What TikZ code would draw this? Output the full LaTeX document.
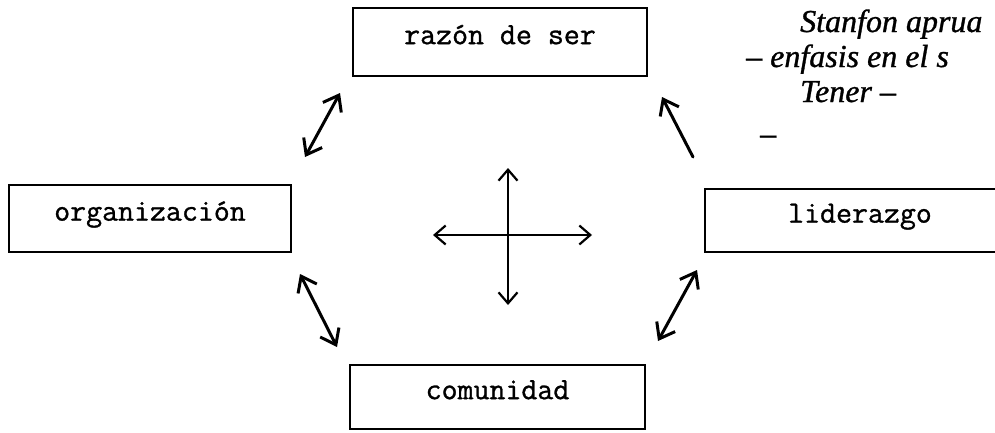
\documentclass[tikz,border=0pt]{standalone}
\usepackage{fontspec}
\usetikzlibrary{arrows.meta}
\newfontfamily\twfont{Latin Modern Mono}[FakeBold=1]
\newfontfamily\handfont{Liberation Serif}[FakeBold=1]
\tikzset{
  conceptbox/.style={draw=black, line width=1.8pt, inner sep=0pt, outer sep=0pt,
    font=\twfont\fontsize{31}{31}\selectfont, text height=1ex, text depth=0pt},
  handarrow/.style={line width=3pt, line cap=round,
    {Straight Barb[length=14pt,width=21pt,line width=3pt]}-{Straight Barb[length=14pt,width=21pt,line width=3pt]}},
  singlearrow/.style={line width=3pt, line cap=round,
    -{Straight Barb[length=14pt,width=21pt,line width=3pt]}},
  crossarrow/.style={line width=2.2pt, line cap=round,
    {Straight Barb[length=11pt,width=19pt,line width=2.2pt]}-{Straight Barb[length=11pt,width=19pt,line width=2.2pt]}},
  handnote/.style={inner sep=0pt, anchor=base west, font=\handfont\itshape\fontsize{32}{32}\selectfont}
}
\begin{document}
\begin{tikzpicture}[x=1pt,y=-1pt]
\useasboundingbox (0,0) rectangle (995,432);
\clip (0,0) rectangle (995,432);
\fill[white] (0,0) rectangle (995,432);

% boxes
\node[conceptbox, minimum width=294pt, minimum height=68pt] (razon) at (500,42) {razón de ser};
\node[conceptbox, minimum width=282pt, minimum height=67pt] (org) at (150,218.5) {organización};
\node[conceptbox, minimum width=310pt, minimum height=63pt] (lid) at (860,220.5) {liderazgo};
\node[conceptbox, minimum width=295pt, minimum height=64pt] (com) at (497.5,397) {comunidad};

% arrow end points
\coordinate (tlA) at (340,93);
\coordinate (tlB) at (305,157);
\coordinate (blA) at (300,274);
\coordinate (blB) at (337,347);
\coordinate (trHead) at (662,97);
\coordinate (trTail) at (693,157);
\coordinate (brA) at (697,270);
\coordinate (brB) at (658,341);
\coordinate (crossT) at (508,168);
\coordinate (crossB) at (508,305);
\coordinate (crossL) at (433,235);
\coordinate (crossR) at (592,235);

\draw[handarrow] (tlB) -- (tlA);
\draw[handarrow] (blA) -- (blB);
\draw[singlearrow] (trTail) -- (trHead);
\draw[handarrow] (brB) -- (brA);
\draw[crossarrow] (crossT) -- (crossB);
\draw[crossarrow] (crossL) -- (crossR);

% handwritten notes
\node[handnote] (note1) at (800,32) {Stanfon aprua};
\node[handnote] (note2) at (746,67) {– enfasis en el s};
\node[handnote] (note3) at (800,102) {Tener –};
\node[handnote] (note4) at (760,144) {–};
\end{tikzpicture}
\end{document}
